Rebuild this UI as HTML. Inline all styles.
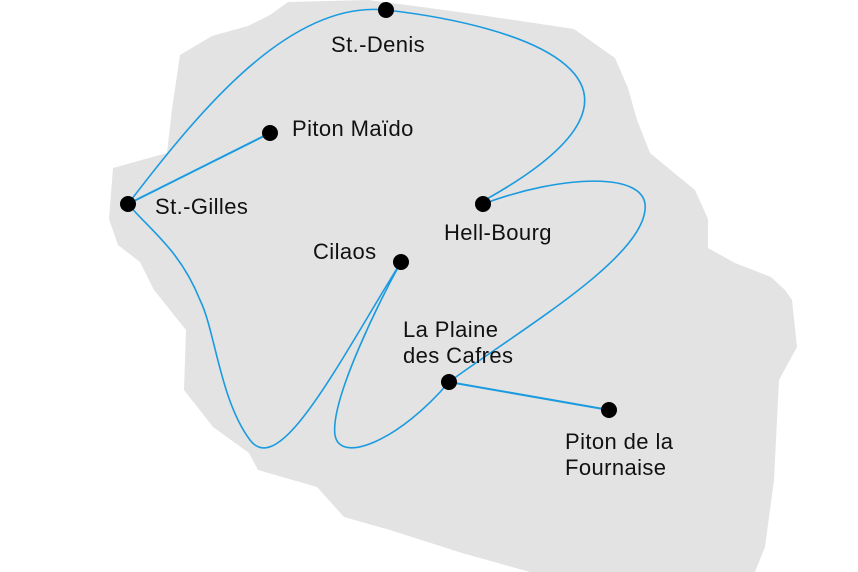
<!DOCTYPE html>
<html><head><style>
html,body{margin:0;padding:0;background:#fff;}
svg{display:block}
text{font-family:"Liberation Sans Narrow","Liberation Sans",sans-serif;font-size:22px;fill:#111;letter-spacing:0.4px;}
</style></head><body>
<svg width="858" height="572" viewBox="0 0 858 572" xmlns="http://www.w3.org/2000/svg">
<path fill="#e3e3e3" d="M270,15 L288,2 L368,0 L422,7 L480,15 L574,29 L615,58 L628,88 L637,120 L650,153 L673,172 L695,190 L708,219 L708,248 L735,263 L771,277 L785,290 L792,300 L797,347 L779,380 L774,480 L765,547 L755,572 L530,572 L462,553 L390,530 L344,517 L317,487 L258,470 L249,453 L213,427 L184,390 L186,330 L154,290 L140,262 L118,245 L109,219 L113,168 L167,153 L172,109 L180,55 L212,36 L248,26 Z"/>
<g fill="none" stroke="#1a9be0" stroke-width="1.6">
<path d="M128,204 C200,110 290,0 386,10"/>
<path d="M386,10 C520,25 700,80 485,200"/>
<path d="M483,204 C560,175 650,170 645,210 C640,260 520,330 449,382"/>
<path d="M449,382 C400,440 340,465 335,435 C330,400 380,300 401,262"/>
<path d="M401,262 C340,360 280,480 250,440 C220,400 215,330 200,300 C180,250 150,230 128,204"/>
<path d="M128,204 L270,133" stroke-width="2"/>
<path d="M449,382 L609,410" stroke-width="2"/>
</g>
<g fill="#000">
<circle cx="386" cy="10" r="8"/>
<circle cx="270" cy="133" r="8"/>
<circle cx="128" cy="204" r="8"/>
<circle cx="483" cy="204" r="8"/>
<circle cx="401" cy="262" r="8"/>
<circle cx="449" cy="382" r="8"/>
<circle cx="609" cy="410" r="8"/>
</g>
<text x="331" y="52">St.-Denis</text>
<text x="292" y="136">Piton Maïdo</text>
<text x="155" y="214">St.-Gilles</text>
<text x="444" y="240">Hell-Bourg</text>
<text x="313" y="259">Cilaos</text>
<text x="403" y="337">La Plaine</text>
<text x="403" y="363">des Cafres</text>
<text x="565" y="449">Piton de la</text>
<text x="565" y="475">Fournaise</text>
</svg>
</body></html>
